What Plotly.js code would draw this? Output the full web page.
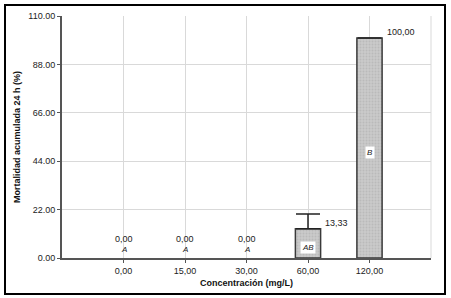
<!DOCTYPE html>
<html>
<head>
<meta charset="utf-8">
<script src="https://cdn.plot.ly/plotly-3.0.1.min.js"></script>
<style>
html,body{margin:0;padding:0;background:#fff;}
#wrap{position:relative;width:451px;height:298px;}
#chart{width:451px;height:298px;}
#frame{position:absolute;left:4px;top:4px;width:438px;height:287px;border:2px solid #000;pointer-events:none;}
</style>
</head>
<body>
<div id="wrap"><div id="chart"></div><div id="frame"></div></div>
<script>
// Data
const categories = ['0,00', '15,00', '30,00', '60,00', '120,00'];
const mortality = [0, 0, 0, 13.33, 100];
const errorPlus = [0, 0, 0, 6.67, 0];
const valueLabels = ['0,00', '0,00', '0,00', '13,33', '100,00'];
const groupLetters = ['A', 'A', 'A', 'AB', 'B'];
const yTicks = [0, 22, 44, 66, 88, 110];

const FONT = 'Arial, "Liberation Sans", sans-serif';

const trace = {
  type: 'bar',
  x: categories,
  // zero-height bars are not drawn at all
  y: mortality.map(v => v > 0 ? v : null),
  width: 0.41,
  marker: {
    color: '#c6c6c6',
    line: {color: '#3a3a3a', width: 1.5},
    pattern: {shape: '.', fgcolor: '#bababa', bgcolor: '#cacaca', size: 3, solidity: 0.3}
  },
  error_y: {
    type: 'data',
    symmetric: false,
    array: errorPlus.map(v => v > 0 ? v : null),
    arrayminus: errorPlus.map(v => v > 0 ? 0 : null),
    color: '#222',
    thickness: 1.5,
    width: 12
  },
  hoverinfo: 'skip'
};

const annotations = [];
categories.forEach((c, i) => {
  const v = mortality[i];
  if (v === 0) {
    annotations.push({x: c, y: 0, xref: 'x', yref: 'y', text: valueLabels[i],
      showarrow: false, yanchor: 'bottom', yshift: 12,
      font: {family: FONT, size: 9, color: '#222'}});
    annotations.push({x: c, y: 0, xref: 'x', yref: 'y', text: '<i>' + groupLetters[i] + '</i>',
      showarrow: false, yanchor: 'bottom', yshift: 2,
      font: {family: FONT, size: 8, color: '#222'}});
  } else {
    annotations.push({x: c, y: v, xref: 'x', yref: 'y', text: valueLabels[i],
      showarrow: false, xanchor: 'left', yanchor: 'bottom', xshift: 15, yshift: -1,
      font: {family: FONT, size: 9, color: '#222'}});
    annotations.push({x: c, y: v / 2, xref: 'x', yref: 'y', text: '<i>' + groupLetters[i] + '</i>',
      showarrow: false, yshift: -4, bgcolor: '#ffffff', borderpad: 1,
      font: {family: FONT, size: 8, color: '#222'}});
  }
});

const layout = {
  width: 451, height: 298,
  margin: {l: 62, r: 20, t: 16, b: 40},
  paper_bgcolor: '#ffffff',
  plot_bgcolor: '#ffffff',
  showlegend: false,
  font: {family: FONT, size: 9, color: '#222'},
  xaxis: {
    type: 'category',
    range: [-1, 5],
    showgrid: true, gridcolor: '#d9d9d9', gridwidth: 1,
    showline: true, linecolor: '#555', linewidth: 2,
    ticks: 'outside', ticklen: 3, tickcolor: '#555', tickwidth: 1,
    tickfont: {family: FONT, size: 9, color: '#222'},
    fixedrange: true,
    title: {text: '<b>Concentración (mg/L)</b>', standoff: 5, font: {family: FONT, size: 9, color: '#111'}},
    zeroline: false
  },
  yaxis: {
    range: [0, 110],
    tickvals: yTicks,
    tickformat: '.2f',
    showgrid: true, gridcolor: '#d9d9d9', gridwidth: 1,
    showline: true, linecolor: '#555', linewidth: 2,
    ticks: 'outside', ticklen: 3, tickcolor: '#555', tickwidth: 1,
    tickfont: {family: FONT, size: 9, color: '#222'},
    zeroline: false,
    fixedrange: true,
    title: {text: '<b>Mortalidad acumulada 24 h (%)</b>', standoff: 6, font: {family: FONT, size: 9, color: '#111'}}
  },
  shapes: [
    {type: 'line', xref: 'paper', yref: 'paper', x0: 1, x1: 1, y0: 0, y1: 1,
     line: {color: '#d9d9d9', width: 1}, layer: 'below'}
  ],
  annotations: annotations
};

Plotly.newPlot('chart', [trace], layout, {displayModeBar: false, staticPlot: true});
</script>
</body>
</html>
